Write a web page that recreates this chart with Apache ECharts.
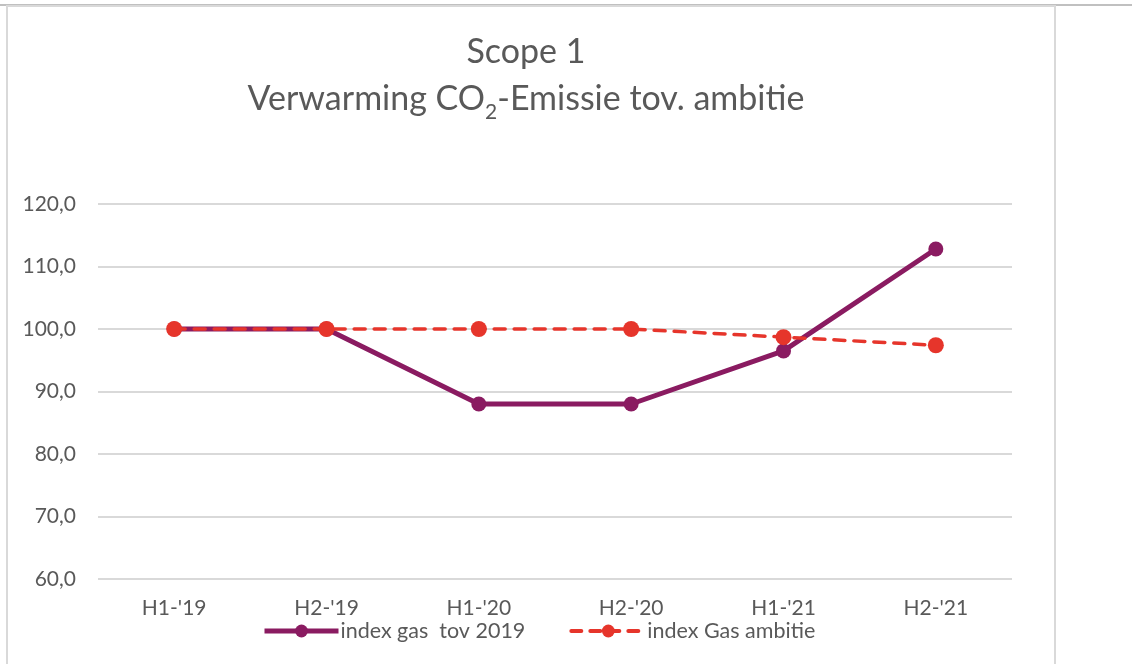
<!DOCTYPE html>
<html>
<head>
<meta charset="utf-8">
<script src="https://cdn.jsdelivr.net/npm/echarts@6/dist/echarts.min.js"></script>
<style>
  html, body { margin: 0; padding: 0; background: #fff; }
  #chart { width: 1132px; height: 664px; }
</style>
</head>
<body>
<div id="chart"></div>
<script>
// data
var categories = ["H1-'19", "H2-'19", "H1-'20", "H2-'20", "H1-'21", "H2-'21"];
var gasIndex = [100, 100, 88, 88, 96.5, 112.8];
var gasAmbitie = [100, 100, 100, 100, 98.7, 97.4];
var seriesNames = ['index gas  tov 2019', 'index Gas ambitie'];

var FONT = 'Lato, "Open Sans", sans-serif';
var TXT = '#595959';
var PURPLE = '#8a1b61';
var RED = '#e6352b';

var chart = echarts.init(document.getElementById('chart'));

var option = {
  animation: false,
  backgroundColor: '#fff',
  title: {
    text: '{t|Scope 1}\n{t|Verwarming CO}{s|2}{t|-Emissie tov. ambitie}',
    left: 521,
    top: 24,
    textAlign: 'center',
    textStyle: {
      fontWeight: 'normal',
      rich: {
        t: { fontFamily: FONT, fontSize: 34, fontWeight: 'normal', color: TXT, lineHeight: 46 },
        s: { fontFamily: FONT, fontSize: 21, fontWeight: 'normal', color: TXT, lineHeight: 48, verticalAlign: 'bottom' }
      }
    }
  },
  graphic: [
    // page separator line and chart frame
    { type: 'rect', shape: { x: 0, y: 4, width: 1132, height: 2 }, style: { fill: '#c0c0c0' }, silent: true },
    { type: 'rect', shape: { x: 7, y: 6, width: 1048, height: 670 }, style: { fill: 'none', stroke: '#d9d9d9', lineWidth: 2 }, silent: true }
  ],
  legend: {
    data: [
      { name: seriesNames[0], lineStyle: { width: 5, color: PURPLE }, itemStyle: { color: PURPLE } },
      { name: seriesNames[1], lineStyle: { width: 4, color: RED, type: [10, 9] }, itemStyle: { color: RED } }
    ],
    left: 257,
    top: 615,
    itemWidth: 74,
    itemHeight: 16,
    itemGap: 44,
    textStyle: { fontFamily: FONT, fontSize: 21.5, color: TXT, padding: [0, 0, 0, -3] }
  },
  grid: { left: 98, right: 120, top: 204, bottom: 85, containLabel: false },
  xAxis: {
    type: 'category',
    data: categories,
    boundaryGap: true,
    axisLine: { show: false },
    axisTick: { show: false },
    axisLabel: { fontFamily: FONT, fontSize: 21, color: TXT, margin: 19 }
  },
  yAxis: {
    type: 'value',
    min: 60,
    max: 120,
    interval: 10,
    axisLine: { show: false },
    axisTick: { show: false },
    axisLabel: {
      fontFamily: FONT, fontSize: 21, color: TXT, margin: 22,
      formatter: function (v) { return v.toFixed(1).replace('.', ','); }
    },
    splitLine: { lineStyle: { color: '#d9d9d9', width: 2 } }
  },
  series: [
    {
      name: seriesNames[0],
      type: 'line',
      data: gasIndex,
      color: PURPLE,
      symbol: 'circle',
      symbolSize: 15,
      lineStyle: { width: 5, color: PURPLE },
      itemStyle: { color: PURPLE },
      z: 2
    },
    {
      name: seriesNames[1],
      type: 'line',
      data: gasAmbitie,
      color: RED,
      symbol: 'circle',
      symbolSize: 16,
      lineStyle: { width: 3.5, type: [11, 9], color: RED, cap: 'round' },
      itemStyle: { color: RED },
      z: 3
    }
  ]
};

chart.setOption(option);
window.addEventListener('resize', function () {
  chart.resize();
});
</script>
</body>
</html>
